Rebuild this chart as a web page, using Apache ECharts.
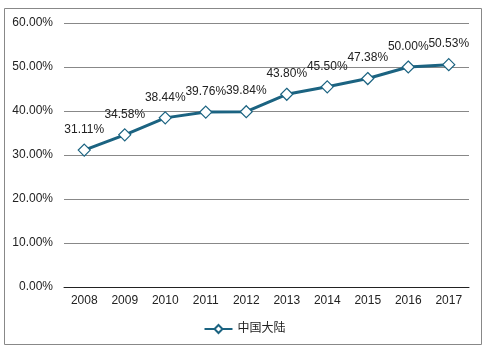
<!DOCTYPE html>
<html><head><meta charset="utf-8">
<script src="https://cdn.jsdelivr.net/npm/echarts@6/dist/echarts.min.js"></script>
<style>html,body{margin:0;padding:0;background:#fff}#c{width:489px;height:351px}</style>
</head><body><div id="c"></div>
<script>
var categories = ['2008','2009','2010','2011','2012','2013','2014','2015','2016','2017'];
var values = [31.11, 34.58, 38.44, 39.76, 39.84, 43.80, 45.50, 47.38, 50.00, 50.53];
var seriesName = '中国大陆';
var chart = echarts.init(document.getElementById('c'));
var font = '"Liberation Sans", Arial, "Noto Sans CJK SC", sans-serif';
chart.setOption({
  animation: false,
  textStyle: {fontFamily: font},
  graphic: [{type:'rect', shape:{x:4.5,y:8.5,width:477,height:336}, style:{fill:'none', stroke:'#888', lineWidth:1}}],
  grid: {left:64, right:20, top:23, bottom:64, containLabel:false},
  legend: {top:318, left:'center', itemWidth:28, itemHeight:10, itemGap:5,
    textStyle:{fontSize:12, color:'#222', fontFamily:font},
    data:[seriesName]},
  xAxis: {type:'category', data:categories, boundaryGap:true,
    axisLine:{lineStyle:{color:'#222', width:1}}, axisTick:{show:false},
    axisLabel:{color:'#222', fontSize:12, margin:8}},
  yAxis: {type:'value', min:0, max:60, interval:10,
    axisLine:{show:false}, axisTick:{show:false},
    splitLine:{lineStyle:{color:'#888', width:1}},
    axisLabel:{color:'#222', fontSize:12, margin:11, formatter:function(v){return v.toFixed(2)+'%';}}},
  series: [{name:seriesName, type:'line', data:values, symbol:'diamond', symbolSize:12,
    lineStyle:{color:'#1b6381', width:3},
    itemStyle:{color:'#fff', borderColor:'#1b6381', borderWidth:1.2},
    label:{show:true, position:'top', distance:8, color:'#222', fontSize:12,
      formatter:function(p){return p.value.toFixed(2)+'%';}}}]
});
</script></body></html>
